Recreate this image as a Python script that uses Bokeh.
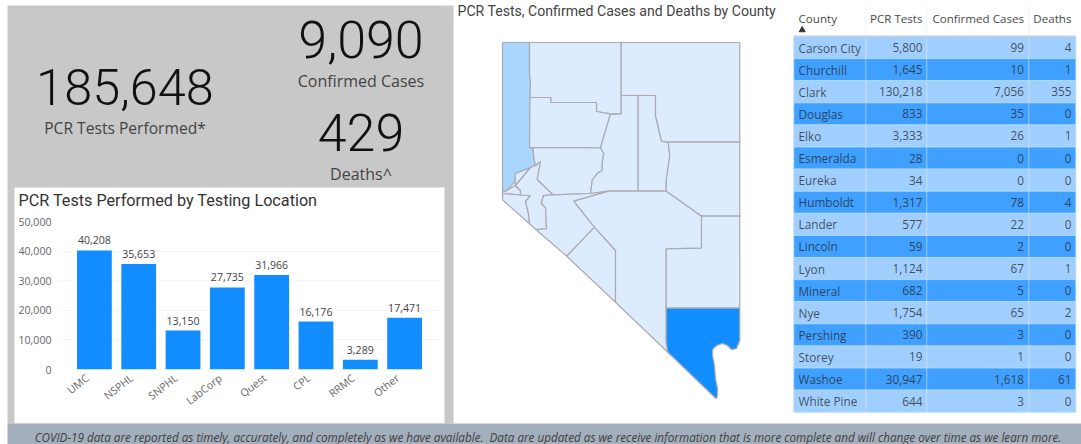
from bokeh.plotting import figure
from bokeh.models import FactorRange, NumeralTickFormatter, Range1d
from bokeh.core.properties import value
from bokeh.embed import file_html
from bokeh.resources import INLINE
import math

# ---------- data ----------
kpi_tests = "185,648"
kpi_cases = "9,090"
kpi_deaths = "429"

locations = ["UMC", "NSPHL", "SNPHL", "LabCorp", "Quest", "CPL", "RRMC", "Other"]
location_tests = [40208, 35653, 13150, 27735, 31966, 16176, 3289, 17471]
y_ticks = [0, 10000, 20000, 30000, 40000, 50000]

table_header = ["County", "PCR Tests", "Confirmed Cases", "Deaths"]
counties = ["Carson City", "Churchill", "Clark", "Douglas", "Elko", "Esmeralda", "Eureka", "Humboldt",
            "Lander", "Lincoln", "Lyon", "Mineral", "Nye", "Pershing", "Storey", "Washoe", "White Pine"]
county_tests = [5800, 1645, 130218, 833, 3333, 28, 34, 1317, 577, 59, 1124, 682, 1754, 390, 19, 30947, 644]
county_cases = [99, 10, 7056, 35, 26, 0, 0, 78, 22, 2, 67, 5, 65, 3, 1, 1618, 3]
county_deaths = [4, 1, 355, 0, 1, 0, 0, 4, 0, 0, 1, 0, 2, 0, 0, 61, 0]

# county outlines
county_shapes = {
    "Carson City": [(502,190.7),(505,190.7),(514.5,185),(520,190),(520,194.5),(502,193)],
    "Storey": [(515,172.7),(530,167),(515,185),(514.3,181.7)],
    "Douglas": [(502,193),(520,194.5),(530,195),(525,201),(528,213),(529,223.3),(502,199.3)],
    "Lyon": [(530,167),(535,165),(540,161),(536.7,179),(552.7,194.3),(543,195),(540.7,203),(545,207),
             (546,228.3),(535.3,229),(529,223.3),(528,213),(525,201),(530,195),(520,194.5),(520,190),(515,185)],
    "Washoe": [(502,42),(529,42),(529,73),(530,85),(529.5,97),(529,147),(532.5,148),(533.5,158),(535,165),
               (515,172.7),(514.3,181.7),(505,190.7),(502,190.7)],
    "Humboldt": [(529,42),(620.7,42),(620.7,113.3),(610,113.3),(596,111),(596,102),(550.3,102),(550.3,97),
                 (529.5,97),(530,85),(529,73)],
    "Pershing": [(529.5,97),(550.3,97),(550.3,102),(596,102),(596,111),(610,113.3),(600,147.3),(529,147)],
    "Churchill": [(529,147),(600,147.3),(603.3,153),(601.7,163),(601.7,170),(596.7,173),(591.7,180),(590,193),
                  (552.7,194.3),(536.7,179),(540,161),(535,165),(533.5,158),(532.5,148)],
    "Lander": [(620.7,95),(637.7,95),(637.7,190.7),(608.3,190.7),(590,193),(591.7,180),(596.7,173),(601.7,170),
               (601.7,163),(603.3,153),(600,147.3),(610,113.3),(611.7,114),(620.7,113.3)],
    "Eureka": [(637.7,95),(655,95),(655,115),(661,140.7),(667.7,141.7),(669.3,155),(665.7,180),(665.7,190.7),(637.7,190.7)],
    "Elko": [(620.7,42),(739.3,42),(739.3,141.7),(667.7,141.7),(661,140.7),(655,115),(655,95),(620.7,95)],
    "White Pine": [(667.7,141.7),(739.3,141.7),(739.3,215.7),(701,215.7),(665.7,190.7),(665.7,180),(669.3,155)],
    "Mineral": [(552.7,194.3),(590,193),(608.3,190.7),(573.3,200.7),(594,226.7),(566.3,255.7),(535.3,229),(546,228.3),
                (545,207),(540.7,203),(543,195)],
    "Esmeralda": [(594,226.7),(615,250),(615,301.7),(566.3,255.7)],
    "Nye": [(608.3,190.7),(665.7,190.7),(701,215.7),(701,247.7),(665.7,248.3),(665.7,341.7),(667.3,351.7),(615,301.7),
            (615,250),(594,226.7),(573.3,200.7)],
    "Lincoln": [(665.7,248.3),(701,247.7),(701,215.7),(739.3,215.7),(739.3,307.7),(665.7,307.7)],
    "Clark": [(665.7,307.7),(739.3,307.7),(739.3,340),(736,348),(731,349),(727,345),(722,343),(716,345),(712,349),
              (712,355),(714,365),(715,378),(717,388),(717,395),(715.7,398.3),(667.3,351.7),(665.7,341.7)],
}
county_shade = {"Washoe": "#A9D5FF", "Clark": "#118DFF"}

footer = ("COVID-19 data are reported as timely, accurately, and completely as we have available.\u00a0 "
          "Data are updated as we receive information that is more complete and will change over time as we learn more.")

# ---------- page canvas ----------
TITLE = value("Roboto")
UI = value("Open Sans")
page = figure(width=1081, height=444, x_range=Range1d(0, 1081), y_range=Range1d(444, 0),
              output_backend="svg", toolbar_location=None, min_border=0,
              outline_line_color=None, background_fill_color="white", border_fill_color="white")
page.axis.visible = False
page.grid.visible = False
page.styles = {"position": "absolute", "left": "0px", "top": "0px"}

page.quad(left=[7], right=[453], top=[5], bottom=[423], color="#C8C8C8", line_color=None)
page.quad(left=[14], right=[444], top=[187], bottom=[423], color="white", line_color=None)
page.quad(left=[7], right=[1081], top=[423], bottom=[444], color="#A3AFBD", line_color=None)
page.text(x=[547.5], y=[436], text=[footer], text_font=UI, text_font_size="11.7px", text_font_style="italic",
          text_color="#404040", text_align="center", text_baseline="middle")

def kpi(x, mid, big, label, label_mid, big_size, label_size):
    page.text(x=[x], y=[mid], text=[big], text_font=value("Roboto Light"), text_font_size=big_size,
              text_color="#111111", text_align="center", text_baseline="middle")
    page.text(x=[x], y=[label_mid], text=[label], text_font=UI, text_font_size=label_size,
              text_color="#444444", text_align="center", text_baseline="middle")

kpi(124.5, 86, kpi_tests, "PCR Tests Performed*", 127.5, "50.5px", "15.6px")
kpi(360.5, 38.5, kpi_cases, "Confirmed Cases", 80, "52px", "16px")
kpi(360.5, 131.5, kpi_deaths, "Deaths^", 173, "52px", "16px")

# map
page.text(x=[457], y=[10], text=["PCR Tests, Confirmed Cases and Deaths by County"], text_font=TITLE,
          text_font_size="14.1px", text_color="#444444", text_align="left", text_baseline="middle")
page.patches(xs=[[pt[0] for pt in s] for s in county_shapes.values()],
             ys=[[pt[1] for pt in s] for s in county_shapes.values()],
             fill_color=[county_shade.get(n, "#DCEBFE") for n in county_shapes],
             line_color="#A9ABB0", line_width=1.2)

# table
col_edges = [793.3, 865.3, 926.3, 1028.3, 1075.3]
head_top, row_top, row_h = 6, 36, 22.1
n = len(counties)
row_tops = [row_top + i * row_h for i in range(n)]
page.quad(left=[col_edges[0]] * n, right=[col_edges[-1]] * n, top=row_tops, bottom=[t + row_h for t in row_tops],
          fill_color=["#A0CFFF" if i % 2 == 0 else "#3FA0FF" for i in range(n)], line_color="#B4DAFF", line_width=0.8)
for e in col_edges[1:-1]:
    page.segment(x0=[e], x1=[e], y0=[head_top], y1=[row_top + n * row_h], line_color="#E4EAF0", line_width=1, line_alpha=0.55)
page.segment(x0=[col_edges[0]], x1=[col_edges[-1]], y0=[35.5], y1=[35.5], line_color="#C8C8C8", line_width=1)
hx = [798, 922, 1023.5, 1071]
ha = ["left", "right", "right", "right"]
for h, x, a in zip(table_header, hx, ha):
    page.text(x=[x], y=[17.5], text=[h], text_font=UI, text_font_size="11.6px", text_color="#4a4a4a",
              text_align=a, text_baseline="middle")
page.scatter(x=[801.7], y=[29.5], marker="triangle", size=6, color="#333333")
mids = [t + row_h / 2 for t in row_tops]
fmt = lambda vals: [f"{v:,}" for v in vals]
for vals, x, a in [(counties, 798, "left"), (fmt(county_tests), 922, "right"),
                   (fmt(county_cases), 1023.5, "right"), (fmt(county_deaths), 1071, "right")]:
    page.text(x=[x] * n, y=mids, text=vals, text_font=UI, text_font_size="11.8px", text_color="#252423",
              text_alpha=0.75, text_align=a, text_baseline="middle")

# ---------- bar chart ----------
bar = figure(width=430, height=246, x_range=FactorRange(*locations, range_padding=0.0775, range_padding_units="percent"),
             y_range=Range1d(0, 50000), output_backend="svg", toolbar_location=None,
             min_border_left=44, min_border_right=4, min_border_top=44, min_border_bottom=54,
             outline_line_color=None, background_fill_color=None, border_fill_color=None,
             title="PCR Tests Performed by Testing Location")
bar.styles = {"position": "absolute", "left": "14px", "top": "177px"}
bar.title.text_font = "Roboto"
bar.title.text_font_size = "16.2px"
bar.title.text_font_style = "normal"
bar.title.text_color = "#333333"
bar.title.offset = -40
bar.title.standoff = 23
bar.vbar(x=locations, top=location_tests, width=0.785, color="#118DFF", line_color=None)
bar.text(x=locations, y=location_tests, text=[f"{v:,}" for v in location_tests], y_offset=-10,
         text_font=UI, text_font_size="10.6px", text_color="#444444", text_align="center", text_baseline="middle")
bar.yaxis.ticker = y_ticks
bar.yaxis.formatter = NumeralTickFormatter(format="0,0")
bar.yaxis.axis_line_color = None
bar.yaxis.major_tick_line_color = None
bar.yaxis.minor_tick_line_color = None
bar.yaxis.major_tick_out = 0
bar.yaxis.major_tick_in = 0
bar.yaxis.major_label_text_font = "Open Sans"
bar.yaxis.major_label_text_font_size = "10.6px"
bar.yaxis.major_label_text_color = "#666666"
bar.yaxis.major_label_standoff = 7
bar.xaxis.visible = False
bar.xgrid.visible = False
bar.ygrid.grid_line_color = "#F5F5F5"
# slanted category labels, ending just under each bar's centre
bar.text(x=locations, y=[0] * len(locations), text=locations, x_offset=-7, y_offset=7, angle=math.radians(38),
         text_font=UI, text_font_size="10.6px", text_color="#666666", text_align="right", text_baseline="middle",
         level="overlay")

open("out.html", "w").write(file_html([page, bar], INLINE))
